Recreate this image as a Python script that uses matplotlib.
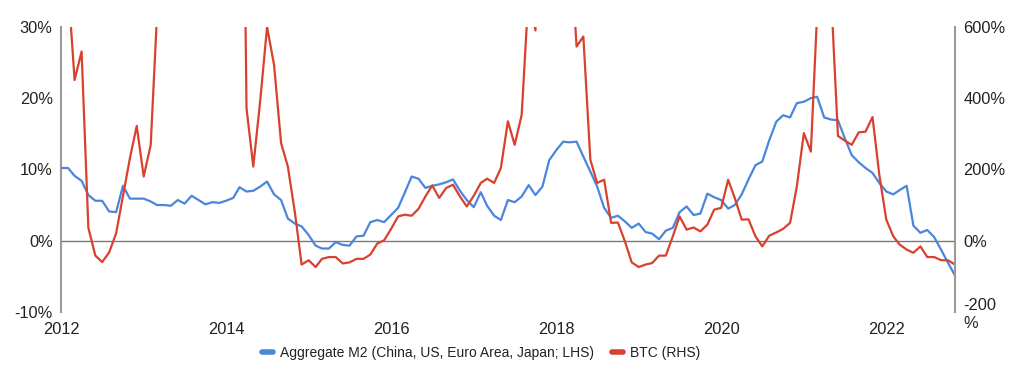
import pandas as pd
import matplotlib.pyplot as plt
import matplotlib.dates as mdates
from matplotlib.lines import Line2D

# --- colours (Google-chart style) ---
palette = {
    "blue": "#4a86dc",
    "red":  "#d9412f",
    "axis": "#9a9a9a",
    "zero": "#7a7a7a",
    "text": "#222222",
}

plt.rcParams.update({
    "font.family": ["Liberation Sans", "DejaVu Sans"],
    "font.size": 11,
    "text.color": palette["text"],
    "xtick.color": palette["text"],
    "ytick.color": palette["text"],
    "figure.facecolor": "white",
    "axes.facecolor": "white",
})

# monthly data, Jan 2012 .. Nov 2022
months = pd.date_range("2012-01-01", periods=131, freq="MS")

# Aggregate M2 YoY growth (%), LHS
m2_yoy = [
    10.2, 10.2, 9.1, 8.4, 6.4, 5.6, 5.6, 4.1, 4.0, 7.7, 5.9, 5.9,
    5.9, 5.5, 5.0, 5.0, 4.9, 5.7, 5.2, 6.3, 5.7, 5.1, 5.4, 5.3,
    5.6, 6.0, 7.5, 6.9, 7.0, 7.6, 8.3, 6.5, 5.7, 3.1, 2.4, 2.0,
    0.8, -0.7, -1.1, -1.1, -0.2, -0.6, -0.7, 0.6, 0.7, 2.6, 2.9, 2.6,
    3.6, 4.6, 6.7, 9.0, 8.7, 7.4, 7.7, 7.9, 8.2, 8.6, 7.0, 5.7,
    4.7, 6.8, 4.9, 3.5, 2.9, 5.7, 5.4, 6.2, 7.8, 6.4, 7.6, 11.3,
    12.7, 13.9, 13.8, 13.9, 11.8, 9.7, 7.6, 4.6, 3.2, 3.5, 2.7, 1.8,
    2.4, 1.2, 1.0, 0.2, 1.4, 1.8, 4.0, 4.8, 3.6, 3.8, 6.6, 6.1,
    5.7, 4.5, 5.0, 6.5, 8.6, 10.6, 11.1, 14.1, 16.7, 17.6, 17.3, 19.3,
    19.5, 20.0, 20.2, 17.3, 17.0, 16.9, 14.4, 12.0, 11.0, 10.2, 9.5, 8.1,
    6.9, 6.5, 7.1, 7.7, 2.1, 1.1, 1.5, 0.5, -1.3, -3.1, -4.9,
]

# BTC YoY change (%), RHS -- values above 600 are cut off in the chart
btc_yoy = [
    1200, 720, 451, 531, 36, -42, -60, -33, 21, 124, 232, 322,
    180, 269, 640, 1000, 2500, 1800, 1300, 1100, 1000, 1200, 2000, 5000,
    4000, 3000, 2100, 372, 208, 395, 600, 493, 274, 208, 80, -67,
    -55, -74, -51, -46, -46, -64, -61, -51, -51, -39, -8, 1,
    33, 68, 73, 70, 89, 124, 155, 120, 148, 157, 124, 96,
    126, 162, 174, 162, 204, 335, 269, 353, 700, 590, 1800, 1700,
    1500, 1000, 870, 545, 573, 227, 162, 171, 50, 51, -2, -61,
    -74, -67, -63, -42, -42, 12, 68, 31, 37, 26, 45, 87,
    92, 171, 120, 59, 60, 12, -16, 14, 23, 33, 50, 152,
    302, 250, 640, 1100, 700, 294, 281, 269, 304, 306, 347, 185,
    59, 12, -11, -25, -34, -16, -46, -46, -55, -55, -67,
]

lhs_ticks = [-10, 0, 10, 20, 30]
lhs_labels = ["-10%", "0%", "10%", "20%", "30%"]
rhs_ticks = [-200, 0, 200, 400, 600]
rhs_labels = ["-200\n%", "0%", "200%", "400%", "600%"]
year_ticks = [2012, 2014, 2016, 2018, 2020, 2022]

label_m2 = "Aggregate M2 (China, US, Euro Area, Japan; LHS)"
label_btc = "BTC (RHS)"

fig = plt.figure(figsize=(10.24, 3.74), dpi=100)
ax = fig.add_axes([0.0596, 0.166, 0.873, 0.762])
ax2 = ax.twinx()

ax.axhline(0, color=palette["zero"], lw=1, zorder=1)
ax.plot(months, m2_yoy, color=palette["blue"], lw=1.6, zorder=3)
ax2.plot(months, btc_yoy, color=palette["red"], lw=1.6)

ax.set_ylim(-10, 30)
ax2.set_ylim(-200, 600)
ax.set_xlim(months[0], months[-1])

ax.set_yticks(lhs_ticks, lhs_labels)
ax2.set_yticks(rhs_ticks, rhs_labels)
ax.set_xticks([pd.Timestamp(f"{y}-01-01") for y in year_ticks])
ax.xaxis.set_major_formatter(mdates.DateFormatter("%Y"))

ax.tick_params(axis="y", length=0, pad=6, labelsize=11.8)
ax2.tick_params(axis="y", length=0, pad=6, labelsize=11.8)
ax.tick_params(axis="x", length=0, pad=7, labelsize=11.8)

for a in (ax, ax2):
    for side in ("top", "bottom", "left", "right"):
        a.spines[side].set_visible(False)
ax.spines["left"].set_visible(True)
ax.spines["left"].set_color(palette["axis"])
ax.spines["left"].set_linewidth(1.5)
ax2.spines["right"].set_visible(True)
ax2.spines["right"].set_color(palette["axis"])
ax2.spines["right"].set_linewidth(1.5)

handles = [
    Line2D([], [], color=palette["blue"], lw=4, solid_capstyle="round"),
    Line2D([], [], color=palette["red"], lw=4, solid_capstyle="round"),
]
fig.legend(handles, [label_m2, label_btc], loc="center",
           bbox_to_anchor=(0.47, 0.057), ncol=2, frameon=False,
           handlelength=0.8, handletextpad=0.5, columnspacing=1.3,
           fontsize=10)

fig.savefig("out.png", dpi=100)
